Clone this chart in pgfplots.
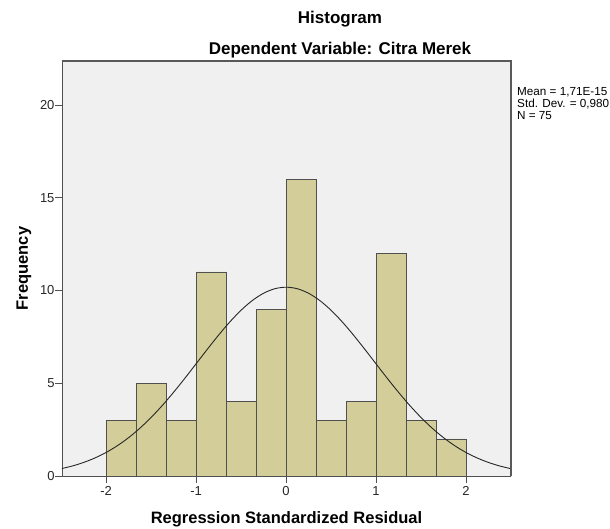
\documentclass[border=0pt]{standalone}
\usepackage{pgfplots}
\pgfplotsset{compat=1.18}
\usepackage{fontspec}
\setmainfont{Liberation Sans}
\definecolor{bgc}{HTML}{F0F0F0}
\definecolor{barc}{HTML}{D3CE99}
\definecolor{edgec}{HTML}{505050}
\begin{document}
\begin{tikzpicture}[x=1bp,y=1bp]
\begin{axis}[
  at={(0,0)}, anchor=south west,
  scale only axis, width=449bp, height=415bp,
  xmin=-2.49, xmax=2.5, ymin=0, ymax=22.37,
  xtick={-2,-1,0,1,2}, ytick={0,5,10,15,20},
  tick align=outside, major tick length=7bp,
  tick style={color=edgec, line width=0.8pt},
  axis x line*=bottom, axis y line*=left,
  axis line style={color=edgec, line width=1pt, -},
  axis background/.style={fill=bgc},
  tick label style={font=\fontsize{13bp}{14bp}\selectfont, text=black!85},
  /pgf/number format/assume math mode=true,
  xticklabel style={yshift=0bp},
  yticklabel style={xshift=3bp},
  xlabel={\textbf{Regression Standardized Residual}},
  ylabel={\textbf{Frequency}},
  xlabel style={font=\fontsize{16.5bp}{18bp}\selectfont, at={(axis description cs:0.5,0)}, anchor=base, yshift=-47bp},
  ylabel style={font=\fontsize{16.5bp}{18bp}\selectfont, at={(axis description cs:0,0.5)}, anchor=base, yshift=34bp},
  clip=true,
]
\addplot[ybar interval, fill=barc, draw=edgec, line width=0.7pt] coordinates {
(-2.0,3) (-1.6667,5) (-1.3333,3) (-1.0,11) (-0.6667,4) (-0.3333,9) (0.0,16) (0.3333,3) (0.6667,4) (1.0,12) (1.3333,3) (1.6667,2) (2.0,2)
};
\addplot[black!85, line width=0.9pt, smooth, no marks] coordinates {
(-2.5,0.3931) (-2.375,0.5397) (-2.25,0.7295) (-2.125,0.9696) (-2.0,1.268) (-1.875,1.632) (-1.75,2.066) (-1.625,2.574) (-1.5,3.154) (-1.375,3.803) (-1.25,4.512) (-1.125,5.266) (-1.0,6.047) (-0.875,6.832) (-0.75,7.593) (-0.625,8.304) (-0.5,8.935) (-0.375,9.459) (-0.25,9.851) (-0.125,10.095) (0,10.177)
(0.125,10.095) (0.25,9.851) (0.375,9.459) (0.5,8.935) (0.625,8.304) (0.75,7.593) (0.875,6.832) (1.0,6.047) (1.125,5.266) (1.25,4.512) (1.375,3.803) (1.5,3.154) (1.625,2.574) (1.75,2.066) (1.875,1.632) (2.0,1.268) (2.125,0.9696) (2.25,0.7295) (2.375,0.5397) (2.5,0.3931)
};
\end{axis}
\draw[black!65, line width=1.2pt] (0,415bp) -- (449bp,415bp) -- (449bp,0);
\node[font=\bfseries\fontsize{17bp}{19bp}\selectfont, anchor=base] at (278bp,452bp) {Histogram};
\node[font=\bfseries\fontsize{17bp}{19bp}\selectfont, anchor=base] at (278bp,421bp) {Dependent Variable: Citra Merek};
\node[font=\fontsize{11.7bp}{12bp}\selectfont, anchor=north west, align=left, inner sep=0pt] at (455bp,389bp) {Mean = 1,71E-15\\Std. Dev. = 0,980\\N = 75};
\pgfresetboundingbox
\path[use as bounding box] (-62bp,-53bp) rectangle (548bp,476bp);
\end{tikzpicture}
\end{document}
